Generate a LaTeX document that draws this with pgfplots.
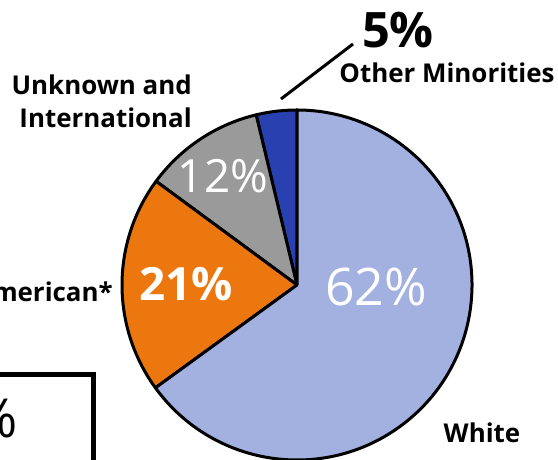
\documentclass[border=0pt]{standalone}
\usepackage{pgfplots}
\usepackage{pgfplotstable}
\pgfplotsset{compat=1.18}
\usepackage{fontspec}
\setmainfont{Open Sans}

\definecolor{cwhite}{HTML}{A3B1E1}
\definecolor{corange}{HTML}{EC770F}
\definecolor{cgray}{HTML}{9A9A9A}
\definecolor{cminor}{HTML}{2940B0}

% shares as drawn (percent of the circle), counter-clockwise from the top
\pgfplotstableread{
share col
3.75  cminor
11.15 cgray
20.1  corange
65.0  cwhite
}\piedata

\begin{document}
\begin{tikzpicture}
\begin{axis}[
    width=558bp, height=460bp,
    scale only axis,
    xmin=0, xmax=558,
    ymin=0, ymax=460,
    hide axis,
]
\pgfmathsetmacro\startang{90}
\pgfplotstablegetrowsof{\piedata}
\pgfmathtruncatemacro\nrows{\pgfplotsretval-1}
\pgfplotsforeachungrouped \i in {0,...,\nrows}{%
    \pgfplotstablegetelem{\i}{share}\of\piedata \let\sh\pgfplotsretval
    \pgfplotstablegetelem{\i}{col}\of\piedata \let\cl\pgfplotsretval
    \pgfmathsetmacro\endang{\startang+3.6*\sh}
    \edef\wedge{\noexpand\filldraw[fill=\cl, draw=black, line width=3bp, line join=round]
        (axis cs:297,175) -- ++(\startang:175bp)
        arc[start angle=\startang, end angle=\endang, radius=175bp] -- cycle;}
    \wedge
    \global\let\startang\endang
}

% values inside the wedges
\node[text=white, font=\fontsize{52}{52}\selectfont, inner sep=0] at (axis cs:376,173) {62\%};
\node[text=white, font=\fontsize{46}{46}\selectfont\bfseries, inner sep=0] at (axis cs:186,175.5) {21\%};
\node[text=white, font=\fontsize{46}{46}\selectfont, inner sep=0] at (axis cs:223,283.5) {12\%};

% outside labels
\node[font=\fontsize{49}{49}\selectfont\bfseries, inner sep=0] at (axis cs:398,429.5) {5\%};
\node[font=\fontsize{26}{26}\selectfont\bfseries, inner sep=0, anchor=base] at (axis cs:447,377) {Other Minorities};
\draw[line width=3bp] (axis cs:281,361) -- (axis cs:353,416);
\node[font=\fontsize{26}{26}\selectfont\bfseries, inner sep=0, anchor=base east] at (axis cs:192,365) {Unknown and};
\node[font=\fontsize{26}{26}\selectfont\bfseries, inner sep=0, anchor=base east] at (axis cs:192,332) {International};
\node[font=\fontsize{26}{26}\selectfont\bfseries, inner sep=0, anchor=base east] at (axis cs:113,158) {African American*};
\node[font=\fontsize{26}{26}\selectfont\bfseries, inner sep=0, anchor=base] at (axis cs:482,17) {White};

% framed total box, cut by the edge of the picture
\draw[line width=5bp] (axis cs:-20,-30) rectangle (axis cs:93,85);
\node[font=\fontsize{54}{54}\selectfont, inner sep=0, anchor=east] at (axis cs:18,41.5) {38\%};

\coordinate (bl) at (rel axis cs:0,0);
\coordinate (tr) at (rel axis cs:1,1);
\end{axis}
\pgfresetboundingbox
\useasboundingbox (bl) rectangle (tr);
\end{tikzpicture}
\end{document}
